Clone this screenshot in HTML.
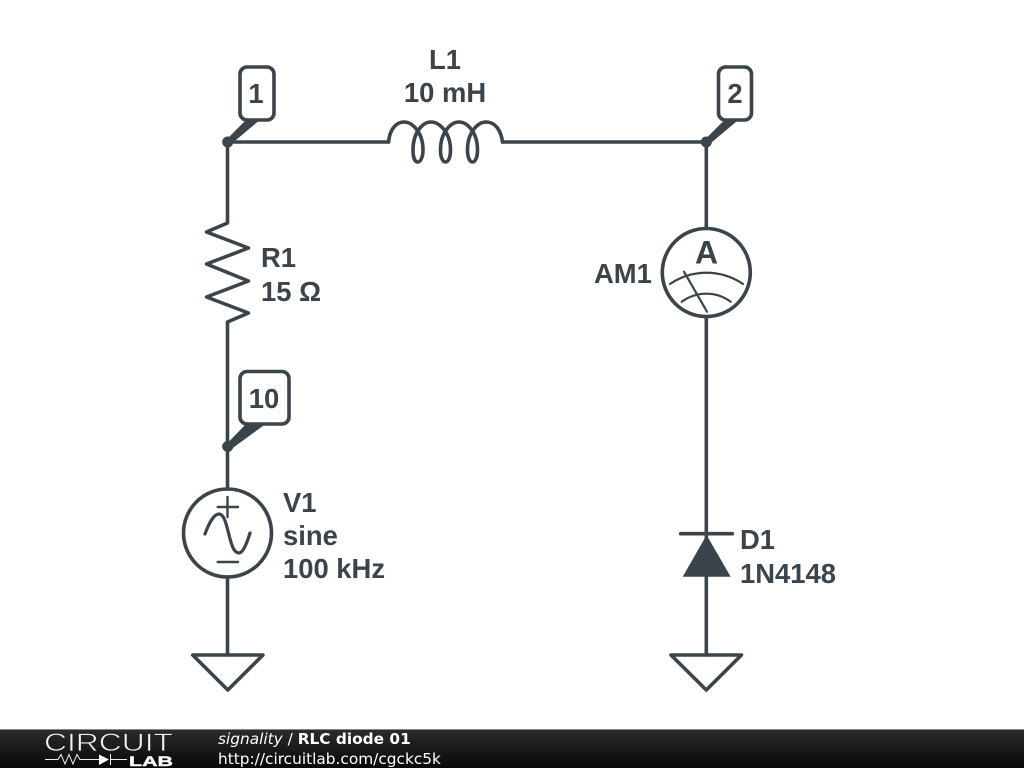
<!DOCTYPE html>
<html><head><meta charset="utf-8"><style>
html,body{margin:0;padding:0;background:#fff;width:1024px;height:768px;overflow:hidden}
svg{display:block}
.l{font:bold 27.4px "Liberation Sans",sans-serif;fill:#3b444b}
.f{font:15.35px "DejaVu Sans",sans-serif;fill:#fff}
</style></head><body>
<svg width="1024" height="768" viewBox="0 0 1024 768" xmlns="http://www.w3.org/2000/svg">
<defs><linearGradient id="g" x1="0" y1="0" x2="0" y2="1"><stop offset="0" stop-color="#2c2c2c"/><stop offset="1" stop-color="#080808"/></linearGradient></defs>
<g fill="none" stroke="#3b444b" stroke-width="3.6" stroke-linejoin="round" stroke-linecap="round">
<path d="M227.5 142H388.5M502.5 142H706.3M227.5 142V223L206.5 232L248.5 248L206.5 264L248.5 281L206.5 297L248.5 313L227.5 322V489M227.5 577V655M706.3 142V228M706.3 317V655"/>
<path d="M388.5 142C390 128 397 122 404 122C412 122 423 132 423 150C423 158 420 162 418 162C415 162 413 158 413 150C413 132 423 122 431 122C439 122 450.5 132 450.5 150C450.5 158 448 162 445.5 162C443 162 440.5 158 440.5 150C440.5 132 451 122 459 122C467 122 477.5 132 477.5 150C477.5 158 475 162 472.5 162C470 162 467.5 158 467.5 150C467.5 132 478 122 486 122C495 122 501 130 502.5 142"/>
<circle cx="706.3" cy="272.5" r="44"/>
<circle cx="227.5" cy="533" r="44"/>
<path d="M192.7 655H263L227.8 690ZM671 655H741.5L706.3 690Z"/>
<path d="M680.7 533.7H732.3"/>
<rect x="240" y="67" width="34" height="53" rx="7"/>
<rect x="718.5" y="67" width="33" height="53" rx="7"/>
<rect x="240" y="371.5" width="49" height="52.5" rx="7"/>
<path d="M205 534C210 520 215 514 219 514C229 514 228 553 239 553C243 553 247 543 250 533" stroke-width="3.2"/>
<path d="M217.7 507H238M227.5 497V517M217.7 562H238" stroke-width="2.4"/>
<path d="M670 284C692 269 721 269 743 284M681.7 301.7C697 291 716 291 730.7 301.7M684 271.7L707 311.7" stroke-width="2.2"/>
</g>
<g fill="#3b444b">
<path d="M682.7 576.7H730.7L706.6 535Z"/>
<circle cx="227.7" cy="142" r="5.5"/><circle cx="706.3" cy="142" r="5.5"/><circle cx="227.7" cy="446.5" r="5.5"/>
<path d="M227 139L247 119H261L230 145Z"/>
<path d="M705.5 139L725.5 119H739.5L708.5 145Z"/>
<path d="M227 443.5L247 423H267L230 450Z"/>
</g>
<text class="l" x="445" y="69" text-anchor="middle">L1</text>
<text class="l" x="445" y="102" text-anchor="middle">10 mH</text>
<text class="l" x="261" y="267">R1</text>
<text class="l" x="261" y="301">15 Ω</text>
<text class="l" x="594" y="283">AM1</text>
<text class="l" x="706.5" y="263.5" text-anchor="middle" style="font-size:32px">A</text>
<text class="l" x="256" y="103" text-anchor="middle">1</text>
<text class="l" x="735" y="103" text-anchor="middle">2</text>
<text class="l" x="264" y="408" text-anchor="middle">10</text>
<text class="l" x="283" y="512">V1</text>
<text class="l" x="283" y="545">sine</text>
<text class="l" x="283" y="578">100 kHz</text>
<text class="l" x="740" y="549">D1</text>
<text class="l" x="740" y="583">1N4148</text>
<rect x="0" y="729" width="1024" height="39" fill="url(#g)"/>
<rect x="0" y="729" width="1024" height="1" fill="#888"/>
<text x="44" y="751" font-family="Liberation Sans,sans-serif" font-size="25" fill="#f4f4f4" stroke="#222" stroke-width=".7" textLength="129" lengthAdjust="spacingAndGlyphs">CIRCUIT</text>
<text x="129" y="766" font-family="Liberation Sans,sans-serif" font-weight="bold" font-size="14" fill="#fff" stroke="#fff" stroke-width=".4" textLength="44" lengthAdjust="spacingAndGlyphs">LAB</text>
<path d="M45 759.5H58L61 754.5L65 764L69 754.5L73 764L77 754.5L80 759.5H99M111 759.5H127M110.5 754V765" fill="none" stroke="#eee" stroke-width="1"/>
<path d="M99 754.5L109 759.5L99 765Z" fill="#fff"/>
<text class="f" x="218" y="744"><tspan font-style="italic">signality</tspan> / <tspan font-weight="bold">RLC diode 01</tspan></text>
<text class="f" x="218" y="764">http://circuitlab.com/cgckc5k</text>
</svg>
</body></html>
